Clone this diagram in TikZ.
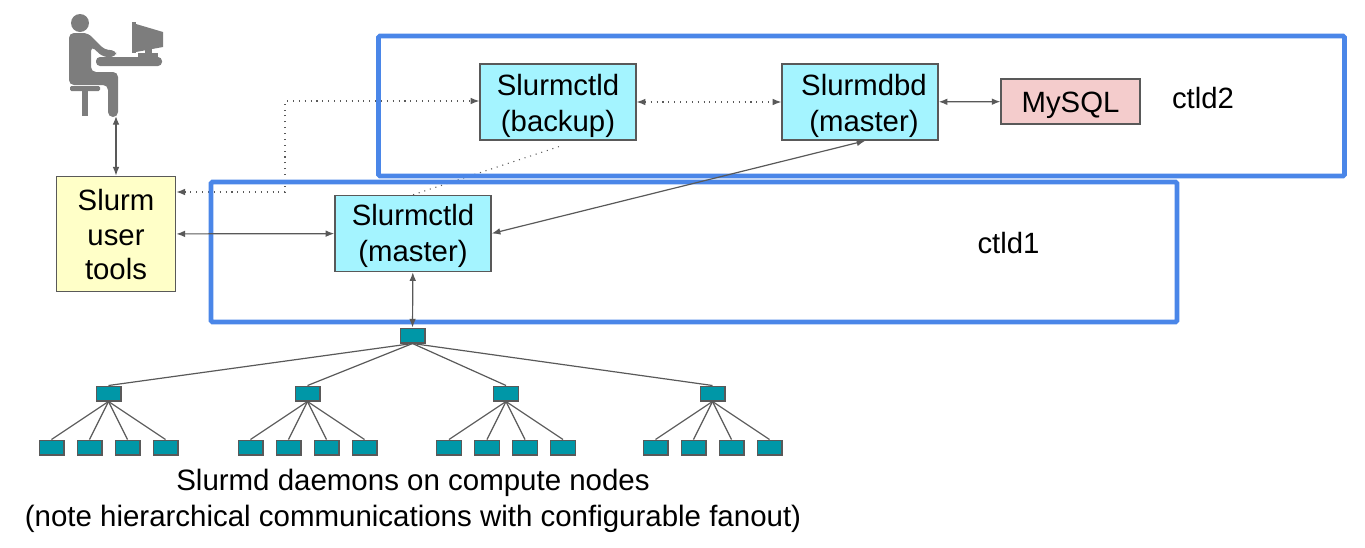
\documentclass[tikz,border=0pt]{standalone}
\usepackage{fontspec}
\setmainfont{Liberation Sans}
\usetikzlibrary{positioning,arrows.meta}
\definecolor{cdaemon}{RGB}{164,244,255}
\definecolor{ctools}{RGB}{255,255,200}
\definecolor{cmysql}{RGB}{244,204,204}
\definecolor{cleaf}{RGB}{0,151,167}
\definecolor{cgroup}{RGB}{74,134,232}
\definecolor{cline}{RGB}{89,89,89}
\definecolor{cicon}{RGB}{125,125,125}
\newcommand{\sinktext}[2][3pt]{\raisebox{-#1}[\height][\depth]{#2}}

\begin{document}
\begin{tikzpicture}[x=0.75pt,y=-0.75pt,
    object/.style={rectangle, draw=cline, line width=1.1pt, align=center, inner sep=0, font=\fontsize{22}{27}\selectfont},
    daemon/.style={object, fill=cdaemon, minimum width=117pt, minimum height=57pt},
    leaf/.style={rectangle, draw=cline, line width=1pt, fill=cleaf, inner sep=0, minimum width=18.5pt, minimum height=11pt},
    group/.style={rectangle, draw=cgroup, line width=3.4pt, rounded corners=1pt, inner sep=0, minimum width=724.5pt, minimum height=105pt},
    label/.style={inner sep=0, align=center, font=\fontsize{22}{27}\selectfont},
    link/.style={{Latex[length=6.5pt,width=5pt]}-{Latex[length=6.5pt,width=5pt]}, cline, line width=.9pt},
    backup/.style={link, line width=.8pt, dash pattern=on .8pt off 3.6pt},
    fanout/.style={cline, line width=.9pt},
    node distance=9pt]
    \useasboundingbox (0,0) rectangle (1365,547);

    % person at the desk
    \fill[cicon] (80,23) circle[radius=9];
    \fill[cicon, rounded corners=3.7pt] (69,85) -- (69,33) -- (88,33) -- (105,50) -- (116,50) -- (116,57) -- (103,57) -- (91,46) -- (91,72) -- (118,72) -- (118,117) -- (108,117) -- (108,85) -- cycle;
    \fill[cicon, rounded corners=1pt] (70,86) rectangle (100,91);
    \fill[cicon] (82,91) rectangle (88,116);
    \fill[cicon, rounded corners=3pt] (96,57) rectangle (162,66);
    \fill[cicon] (138,53) rectangle (158,57);
    \fill[cicon] (145,49) rectangle (152,53);
    \fill[cicon] (132,22) rectangle (136,53);
    \fill[cicon] (136,24) -- (163,32) -- (163,47) -- (136,52) -- cycle;
    \coordinate (User) at (116,116);

    \node[object, fill=ctools, minimum width=89.5pt, minimum height=86.5pt, font=\fontsize{22}{26}\selectfont] (Tools) at (116,234) {\sinktext[.5pt]{Slurm}\\\sinktext[.5pt]{user}\\\sinktext[.5pt]{tools}};
    \node[daemon] (Master) at (413,233.5) {\sinktext[2pt]{Slurmctld}\\\sinktext[2pt]{(master)}};
    \node[daemon] (Backup) at (558,102) {\sinktext{Slurmctld}\\\sinktext{(backup)}};
    \node[daemon] (Dbd) at (860,102) {\hspace*{6pt}\sinktext{Slurmdbd}\\\hspace*{6pt}\sinktext{(master)}};
    \node[object, fill=cmysql, minimum width=104pt, minimum height=34pt] (Mysql) at (1070.5,101.5) {\sinktext{MySQL}};

    \node[leaf] (Root) at (412.5,335.5) {};
    \node[leaf] (MidA) at (108.5,393.5) {};
    \node[leaf] (MidB) at (307.5,393.5) {};
    \node[leaf] (MidC) at (506,393.5) {};
    \node[leaf] (MidD) at (712.5,393.5) {};

    \node[leaf] (LeafA1) at (51.5,447.5) {};
    \node[leaf] (LeafA2) [right=of LeafA1] {};
    \node[leaf] (LeafA3) [right=of LeafA2] {};
    \node[leaf] (LeafA4) [right=of LeafA3] {};
    \node[leaf] (LeafB1) at (250.5,447.5) {};
    \node[leaf] (LeafB2) [right=of LeafB1] {};
    \node[leaf] (LeafB3) [right=of LeafB2] {};
    \node[leaf] (LeafB4) [right=of LeafB3] {};
    \node[leaf] (LeafC1) at (449,447.5) {};
    \node[leaf] (LeafC2) [right=of LeafC1] {};
    \node[leaf] (LeafC3) [right=of LeafC2] {};
    \node[leaf] (LeafC4) [right=of LeafC3] {};
    \node[leaf] (LeafD1) at (655.5,447.5) {};
    \node[leaf] (LeafD2) [right=of LeafD1] {};
    \node[leaf] (LeafD3) [right=of LeafD2] {};
    \node[leaf] (LeafD4) [right=of LeafD3] {};

    \node[label] (Ctld2Label) at (1203,98) {ctld2};
    \node[label] (Ctld1Label) at (1008.5,243) {ctld1};
    \node[label, font=\fontsize{22.1}{26.5}\selectfont] (Caption) at (413,501) {Slurmd daemons on compute nodes\\(note hierarchical communications with configurable fanout)};

    % dotted links run under the boxes
    \draw[backup] (Tools.east |- 0,192) -- (285,192) -- (285,101) -- (Backup.west |- 0,101);
    \draw[backup] (Backup) -- (Dbd);
    \draw[backup, -, shorten <=14pt] ([xshift=14pt]Backup.south) -- (Master.north);

    \node[group] (Ctld2) at (861.5,106) {};
    \node[group] (Ctld1) at (694,252) {};

    \draw[link] (User) -- (Tools.north);
    \draw[link] (Tools) -- (Master);
    \draw[link] (Master.east) -- ([xshift=4pt]Dbd.south);
    \draw[link] (Dbd) -- (Mysql);
    \draw[link] (Master) -- (Root);

    \draw[fanout] (Root.south) -- (MidA.north);
    \draw[fanout] (Root.south) -- (MidB.north);
    \draw[fanout] (Root.south) -- (MidC.north);
    \draw[fanout] (Root.south) -- (MidD.north);

    \draw[fanout] (MidA.south) -- (LeafA1.north);
    \draw[fanout] (MidA.south) -- (LeafA2.north);
    \draw[fanout] (MidA.south) -- (LeafA3.north);
    \draw[fanout] (MidA.south) -- (LeafA4.north);
    \draw[fanout] (MidB.south) -- (LeafB1.north);
    \draw[fanout] (MidB.south) -- (LeafB2.north);
    \draw[fanout] (MidB.south) -- (LeafB3.north);
    \draw[fanout] (MidB.south) -- (LeafB4.north);
    \draw[fanout] (MidC.south) -- (LeafC1.north);
    \draw[fanout] (MidC.south) -- (LeafC2.north);
    \draw[fanout] (MidC.south) -- (LeafC3.north);
    \draw[fanout] (MidC.south) -- (LeafC4.north);
    \draw[fanout] (MidD.south) -- (LeafD1.north);
    \draw[fanout] (MidD.south) -- (LeafD2.north);
    \draw[fanout] (MidD.south) -- (LeafD3.north);
    \draw[fanout] (MidD.south) -- (LeafD4.north);
\end{tikzpicture}
\end{document}
